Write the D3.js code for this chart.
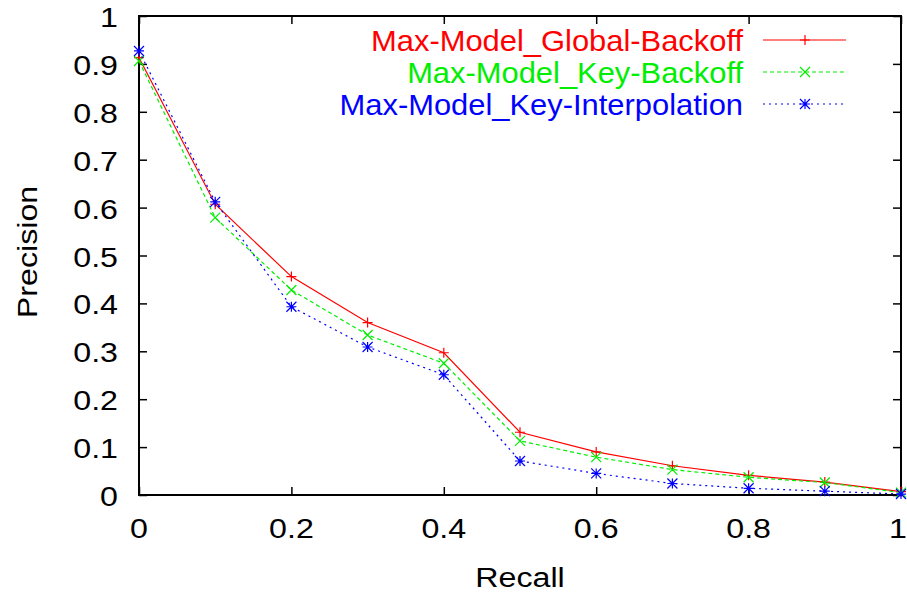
<!DOCTYPE html>
<html>
<head>
<meta charset="utf-8">
<script src="https://cdn.jsdelivr.net/npm/d3@7"></script>
<style>
  html, body { margin: 0; padding: 0; background: #fff; }
  svg { display: block; }
  text { font-family: "Liberation Sans", Arial, Helvetica, sans-serif; }
</style>
</head>
<body>
<svg id="chart" width="907" height="594"></svg>
<script>
// Recall levels (x) and precision for each model variant
const recall = [0, 0.1, 0.2, 0.3, 0.4, 0.5, 0.6, 0.7, 0.8, 0.9, 1.0];
const globalBackoff = [0.913, 0.607, 0.456, 0.360, 0.297, 0.131, 0.090, 0.061, 0.041, 0.027, 0.007];
const keyBackoff = [0.906, 0.579, 0.428, 0.334, 0.275, 0.113, 0.079, 0.053, 0.037, 0.026, 0.005];
const keyInterpolation = [0.927, 0.612, 0.393, 0.309, 0.251, 0.071, 0.045, 0.024, 0.014, 0.008, 0.002];
const seriesNames = ["Max-Model_Global-Backoff", "Max-Model_Key-Backoff", "Max-Model_Key-Interpolation"];
const xTicks = [0, 0.2, 0.4, 0.6, 0.8, 1];
const yTicks = [0, 0.1, 0.2, 0.3, 0.4, 0.5, 0.6, 0.7, 0.8, 0.9, 1];

const series = [
  { name: seriesNames[0], values: globalBackoff, color: "#ff0000", dash: null, marker: "plus" },
  { name: seriesNames[1], values: keyBackoff, color: "#00ee00", dash: "4,3", marker: "cross" },
  { name: seriesNames[2], values: keyInterpolation, color: "#0000ff", dash: "2,4", marker: "star" }
];

const svg = d3.select("#chart");
const plotLeft = 139, plotRight = 901, plotTop = 16, plotBottom = 495;
const widen = 1.15; // horizontal stretch of the axis lettering

const x = d3.scaleLinear().domain([0, 1]).range([plotLeft, plotRight]);
const y = d3.scaleLinear().domain([0, 1]).range([plotBottom, plotTop]);

const tickLen = 8;
const tickFmt = d => String(d);

// inward ticks on all four sides
const axes = svg.append("g");
axes.append("g").attr("transform", `translate(0,${plotBottom})`)
  .call(d3.axisTop(x).tickValues(xTicks).tickSize(tickLen).tickFormat(""));
axes.append("g").attr("transform", `translate(0,${plotTop})`)
  .call(d3.axisBottom(x).tickValues(xTicks).tickSize(tickLen).tickFormat(""));
axes.append("g").attr("transform", `translate(${plotLeft},0)`)
  .call(d3.axisRight(y).tickValues(yTicks).tickSize(tickLen).tickFormat(""));
axes.append("g").attr("transform", `translate(${plotRight},0)`)
  .call(d3.axisLeft(y).tickValues(yTicks).tickSize(tickLen).tickFormat(""));
axes.selectAll(".domain").remove();
axes.selectAll(".tick line").attr("stroke", "#000").attr("stroke-width", 1.5);

// tick labels
svg.append("g").selectAll("text").data(xTicks).join("text")
  .attr("transform", d => `translate(${d === 1 ? x(d) - 3 : x(d)},538) scale(${widen},1)`)
  .attr("text-anchor", "middle").attr("font-size", 28).attr("fill", "#000")
  .text(tickFmt);
svg.append("g").selectAll("text").data(yTicks).join("text")
  .attr("transform", d => `translate(118,${y(d) + 11}) scale(${widen},1)`)
  .attr("text-anchor", "end").attr("font-size", 28).attr("fill", "#000")
  .text(tickFmt);

// axis titles
svg.append("text").attr("transform", `translate(520,587) scale(${widen},1)`)
  .attr("text-anchor", "middle")
  .attr("font-size", 28).attr("fill", "#000").text("Recall");
svg.append("text").attr("transform", `translate(37,252) rotate(-90) scale(${widen},1)`)
  .attr("text-anchor", "middle").attr("font-size", 28).attr("fill", "#000").text("Precision");

// frame
svg.append("rect").attr("x", plotLeft).attr("y", plotTop)
  .attr("width", plotRight - plotLeft).attr("height", plotBottom - plotTop)
  .attr("fill", "none").attr("stroke", "#000").attr("stroke-width", 2);

const markerPath = (kind, s) => {
  if (kind === "plus") return `M${-s},0H${s}M0,${-s}V${s}`;
  if (kind === "cross") return `M${-s},${-s}L${s},${s}M${-s},${s}L${s},${-s}`;
  return `M${-s},0H${s}M0,${-s}V${s}M${-s},${-s}L${s},${s}M${-s},${s}L${s},${-s}`;
};

const line = d3.line().x((d, i) => x(recall[i])).y(d => y(d));

const plot = svg.append("g");
series.forEach(s => {
  plot.append("path").attr("d", line(s.values))
    .attr("fill", "none").attr("stroke", s.color).attr("stroke-width", 1.2)
    .attr("stroke-dasharray", s.dash);
  plot.append("g").selectAll("path").data(s.values).join("path")
    .attr("transform", (d, i) => `translate(${x(recall[i])},${y(d)})`)
    .attr("d", markerPath(s.marker, 5))
    .attr("stroke", s.color).attr("stroke-width", 1.2).attr("fill", "none");
});

// legend
const legend = svg.append("g");
series.forEach((s, i) => {
  const ly = 40 + i * 32;
  legend.append("text").attr("transform", `translate(743,${ly + 11}) scale(1.03,1)`)
    .attr("text-anchor", "end").attr("font-size", 30).attr("fill", s.color).text(s.name);
  legend.append("line").attr("x1", 763).attr("x2", 846).attr("y1", ly).attr("y2", ly)
    .attr("stroke", s.color).attr("stroke-width", 1.2).attr("stroke-dasharray", s.dash);
  legend.append("path").attr("transform", `translate(805,${ly})`)
    .attr("d", markerPath(s.marker, 5))
    .attr("stroke", s.color).attr("stroke-width", 1.2).attr("fill", "none");
});
</script>
</body>
</html>
